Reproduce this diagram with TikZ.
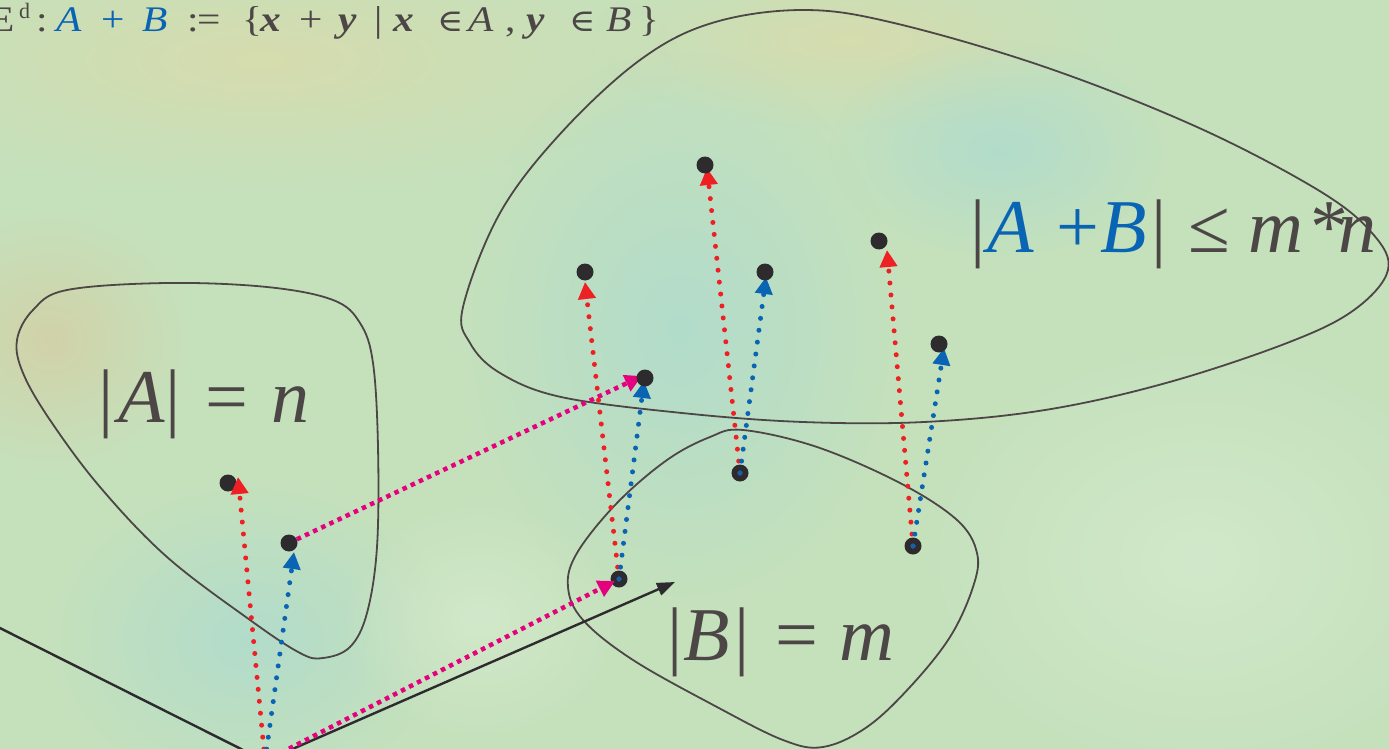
\documentclass[tikz,border=0pt]{standalone}
\usepackage{fontspec}
\setmainfont{Liberation Serif}
\newfontfamily\tnr{Liberation Serif}
\newfontfamily\symf{DejaVu Serif}
\usetikzlibrary{arrows.meta,calc,fadings}
\definecolor{txt}{HTML}{4D4646}
\definecolor{bl}{HTML}{0A64B4}
\definecolor{rd}{HTML}{EE2024}
\definecolor{mg}{HTML}{E5007D}
\definecolor{dotc}{HTML}{2E2B2E}
\definecolor{bgbase}{HTML}{C5E1BC}
\definecolor{tintY}{HTML}{D6DCAE}
\definecolor{tintT}{HTML}{D2D2A8}
\definecolor{tintB}{HTML}{B2DCCB}
\definecolor{tintL}{HTML}{D2E8CA}
\tikzfading[name=fuzzy, inner color=transparent!0, outer color=transparent!100]
% place #2 at horizontal offset #1 (px) from the node origin
\newcommand\putat[2]{\rlap{\hspace*{#1pt}#2}}
% same, stretched horizontally (top line)
\newcommand\putst[2]{\rlap{\hspace*{#1pt}\scalebox{1.15}[1]{#2}}}
\begin{document}
\begin{tikzpicture}[x=1pt,y=-1pt,
  blob/.style={draw=txt,line width=1.8pt},
  pt/.style={circle,fill=dotc,minimum size=17pt,inner sep=0pt},
  rdarr/.style={draw=rd,line width=5pt,line cap=round,dash pattern=on 0pt off 12pt,
     -{Triangle[length=17pt,width=17pt,fill=rd]}},
  blarr/.style={draw=bl,line width=5pt,line cap=round,dash pattern=on 0pt off 12pt,
     -{Triangle[length=17pt,width=17pt,fill=bl]}},
  mgarr/.style={draw=mg,line width=4.5pt,dash pattern=on 4.5pt off 4.5pt,
     -{Triangle[length=17pt,width=17pt,fill=mg]}},
  blkarr/.style={draw=dotc,line width=2.4pt,-{Triangle[length=18pt,width=13pt,fill=dotc]}},
  blkline/.style={draw=dotc,line width=2.4pt},
  big/.style={text=txt,font=\tnr\fontsize{76}{76}\selectfont,inner sep=0pt},
  top/.style={text=txt,font=\tnr\fontsize{36}{36}\selectfont,inner sep=0pt},
  bg/.style={path fading=fuzzy}
]
\useasboundingbox (0,0) rectangle (1389,749);
\clip (0,0) rectangle (1389,749);
% background
\fill[bgbase] (0,0) rectangle (1389,749);
\fill[tintY,bg] (260,60) ellipse (420 and 130);
\fill[tintY,bg] (850,40) ellipse (260 and 90);
\fill[tintT,bg] (50,340) ellipse (140 and 130);
\fill[tintB,bg] (680,330) ellipse (220 and 280);
\fill[tintB,bg] (250,640) ellipse (200 and 160);
\fill[tintB,bg] (1000,150) ellipse (170 and 110);
\fill[tintL,bg] (1200,560) ellipse (280 and 220);
\fill[tintL,bg] (480,620) ellipse (140 and 120);

% top definition line
\node[top,anchor=base west] (def) at (0,32) {%
\putst{-11}{E}\putat{19}{\raisebox{13pt}{\fontsize{22}{22}\selectfont d}}\putst{36}{:}%
\putst{56}{\textcolor{bl}{\textit{A}}}\putst{101}{\textcolor{bl}{+}}\putst{142}{\textcolor{bl}{\textit{B}}}%
\putst{187}{:}\putst{197}{=}\putst{242}{\{}\putst{260}{\textbf{\textit{x}}}\putst{299}{+}%
\putst{338}{\textbf{\textit{y}}}\putst{374}{|}\putst{393}{\textbf{\textit{x}}}%
\putst{437}{{\symf\fontsize{31}{31}\selectfont ∈}}\putst{468}{\textit{A}}\putst{505}{,}%
\putst{526}{\textbf{\textit{y}}}\putst{569}{{\symf\fontsize{31}{31}\selectfont ∈}}%
\putst{606}{\textit{B}}\putst{639}{\}}\hspace*{655pt}};

% set outlines
\draw[blob] plot[smooth cycle,tension=0.6] coordinates {
 (17,340) (33,310) (67,290) (167,283) (267,287) (333,300) (360,323) (373,363)
 (378,447) (377,547) (367,613) (350,647) (323,658) (300,653) (250,620)
 (167,557) (100,487) (50,420) (23,373)};
\draw[blob] plot[smooth cycle,tension=0.6] coordinates {
 (463,307) (500,213) (561,133) (640,60) (712,23) (803,10) (894,23) (1045,67)
 (1197,127) (1318,190) (1372,233) (1388,270) (1354,310) (1287,343) (1166,383)
 (1045,410) (924,422) (803,422) (682,413) (561,397) (500,373) (470,343)};
\draw[blob] plot[smooth cycle,tension=0.6] coordinates {
 (743,430) (817,447) (900,483) (957,520) (977,553) (973,587) (950,637) (910,687)
 (867,727) (823,747) (783,740) (717,707) (633,660) (583,620) (568,587) (577,553)
 (617,503) (667,460) (710,437)};

% labels
\node[big,anchor=base west] (labA) at (0,422) {%
\putat{98}{|}\putat{118}{\textit{A}}\putat{165}{|}\putat{205}{=}\putat{271}{\textit{n}}\hspace*{305pt}};
\node[big,anchor=base west] (labB) at (0,660) {%
\putat{667}{|}\putat{683}{\textit{B}}\putat{734}{|}\putat{775}{=}\putat{839}{\textit{m}}\hspace*{890pt}};
\node[big,anchor=base west] (labS) at (0,252) {%
\putat{970}{|}\putat{987}{\textcolor{bl}{\textit{A}}}\putat{1056}{\textcolor{bl}{+}}\putat{1100}{\textcolor{bl}{\textit{B}}}%
\putat{1151}{|}\putat{1188}{≤}\putat{1248}{\textit{m}}\putat{1310}{*}\putat{1338}{\textit{n}}\hspace*{1372pt}};

% points
\coordinate (O) at (265,761);
\coordinate (L) at (-40,608);
\coordinate (bt) at (675,582);
\coordinate (s1) at (585,272);
\coordinate (s2) at (645,378);
\coordinate (s3) at (705,165);
\coordinate (s4) at (765,272);
\coordinate (s5) at (879,241);
\coordinate (s6) at (939,344);
\node[pt] (a1) at (228,483) {};
\node[pt] (a2) at (289,543) {};
\node[pt] (b1) at (619,579) {};
\node[pt] (b2) at (740,473) {};
\node[pt] (b3) at (913,546) {};

% connectors
\draw[blkline] (O) -- (L);
\draw[blkarr] (O) -- (bt);
\draw[rdarr] (O) -- ($(a1)+(10,-6)$);
\draw[blarr] (O) -- ($(a2)+(5,9)$);
\draw[mgarr] (O) -- ($(b1)+(-4,2)$);
\draw[mgarr] (a2) -- ($(s2)+(-3,-2)$);
\draw[rdarr] (b1.center) -- ($(s1)+(0,10)$);
\draw[blarr] (b1.center) -- ($(s2)+(-1,3)$);
\draw[rdarr] (b2.center) -- ($(s3)+(2,3)$);
\draw[blarr] (b2.center) -- ($(s4)+(1,5)$);
\draw[rdarr] (b3.center) -- ($(s5)+(8,9)$);
\draw[blarr] (b3.center) -- ($(s6)+(5,4)$);

\node[pt] (p1) at (s1) {};
\node[pt] (p2) at (s2) {};
\node[pt] (p3) at (s3) {};
\node[pt] (p4) at (s4) {};
\node[pt] (p5) at (s5) {};
\node[pt] (p6) at (s6) {};
\end{tikzpicture}
\end{document}
